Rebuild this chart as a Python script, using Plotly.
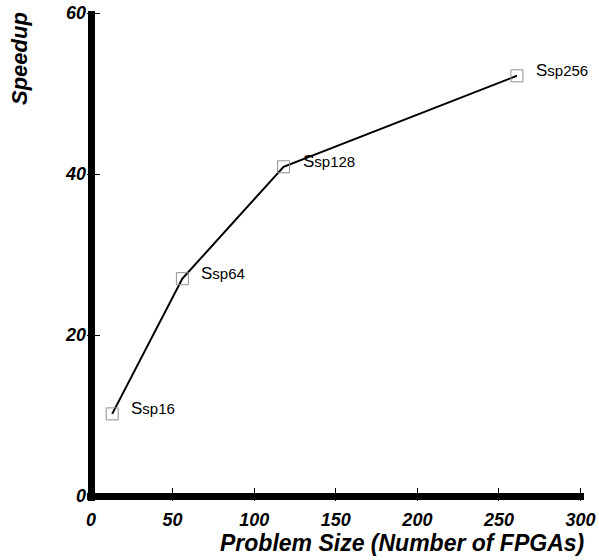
import plotly.graph_objects as go

# Data
problem_size = [13, 56, 118, 261]
speedup = [10.2, 27.0, 40.9, 52.2]
point_labels = ["sp16", "sp64", "sp128", "sp256"]
x_ticks = [0, 50, 100, 150, 200, 250, 300]
y_ticks = [0, 20, 40, 60]

FONT = "Liberation Sans, Arial, sans-serif"

fig = go.Figure()
fig.add_trace(go.Scatter(
    x=problem_size, y=speedup, mode="lines",
    line=dict(color="black", width=2), showlegend=False, hoverinfo="skip"))
fig.add_trace(go.Scatter(
    x=problem_size, y=speedup, mode="markers",
    marker=dict(symbol="square-open", size=12, color="#909090", line=dict(width=1)),
    showlegend=False))

annotations = []
for xv, yv, lab in zip(problem_size, speedup, point_labels):
    annotations.append(dict(
        x=xv, y=yv, xref="x", yref="y",
        text="<span style='font-size:17px'>S</span>" + lab,
        showarrow=False, xanchor="left", yanchor="middle",
        xshift=17, yshift=5,
        font=dict(family=FONT, size=15, color="black")))

# axis titles
annotations.append(dict(
    x=0, y=1, xref="paper", yref="paper", text="Speedup", textangle=-90,
    showarrow=False, xanchor="center", yanchor="middle",
    xshift=-68, yshift=-48,
    font=dict(family=FONT, size=22, color="black", weight="bold", style="italic")))
annotations.append(dict(
    x=1, y=0, xref="paper", yref="paper", text="Problem Size (Number of FPGAs)",
    showarrow=False, xanchor="right", yanchor="middle",
    xshift=2, yshift=-42,
    font=dict(family=FONT, size=23, color="black", weight="bold", style="italic")))

tickfont = dict(family=FONT, size=18, color="black", weight="bold", style="italic")

fig.update_layout(
    width=599, height=560,
    margin=dict(l=86.5, r=15, t=11, b=59, autoexpand=False),
    paper_bgcolor="white", plot_bgcolor="white",
    annotations=annotations,
    xaxis=dict(
        range=[-2.45, 302.1], tickvals=x_ticks, ticktext=[str(v) for v in x_ticks],
        showgrid=False, showline=False, automargin=False,
        zeroline=True, zerolinecolor="black", zerolinewidth=7,
        ticks="inside", ticklen=13, tickwidth=1, tickcolor="black",
        ticklabeloverflow="allow", ticklabelstandoff=6,
        tickfont=tickfont),
    yaxis=dict(
        range=[-0.62, 60.25], tickvals=y_ticks, ticktext=[str(v) for v in y_ticks],
        showgrid=False, showline=False, automargin=False,
        zeroline=True, zerolinecolor="black", zerolinewidth=7,
        ticks="inside", ticklen=13, tickwidth=1, tickcolor="black",
        ticklabeloverflow="allow",
        tickfont=tickfont),
)

fig.write_html("out.html", config={"displayModeBar": False},
               post_script="document.body.style.margin='0px';")
